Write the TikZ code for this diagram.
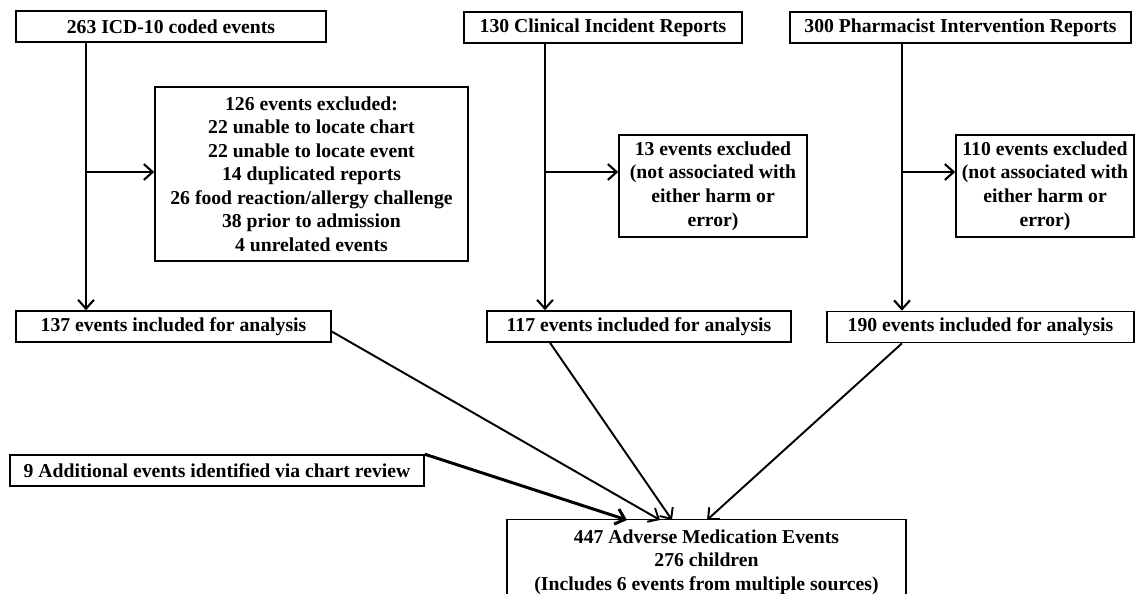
\documentclass[tikz,border=0pt]{standalone}
\usepackage{fontspec}
\setmainfont{Liberation Serif}
\usetikzlibrary{positioning, arrows.meta}

\tikzset{
  flowbox/.style={draw, line width=0.9pt, align=center, inner sep=0pt,
    font=\fontsize{11.2}{13.4}\selectfont\bfseries, minimum height=0.62cm},
  flowarrow/.style={line width=1.2pt, -{Straight Barb[length=5pt, width=9pt]}},
  mergearrow/.style={line width=1.1pt, -{Straight Barb[length=5pt, width=9pt]}}
}

\begin{document}
\begin{tikzpicture}[x=0.02cm, y=-0.02cm]
    \useasboundingbox (0,0) rectangle (1136,594);

    % Sources
    \node[flowbox, minimum width=6.2cm] (icd) at (171,26.5) {263 ICD-10 coded events};
    \node[flowbox, minimum width=5.56cm] (cir) at (603,27.5) {130 Clinical Incident Reports};
    \node[flowbox, minimum width=6.82cm] (pir) at (960.5,27.5) {300 Pharmacist Intervention Reports};

    % Exclusions
    \node[flowbox, minimum width=6.26cm, minimum height=3.48cm] (icdex) at (311.5,174) {126 events excluded:\\22 unable to locate chart\\22 unable to locate event\\14 duplicated reports\\26 food reaction/allergy challenge\\38 prior to admission\\4 unrelated events};
    \node[flowbox, minimum width=3.76cm, minimum height=2.04cm] (cirex) at (713,186) {13 events excluded\\(not associated with\\either harm or\\error)};
    \node[flowbox, minimum width=3.56cm, minimum height=2.04cm] (pirex) at (1045,186) {110 events excluded\\(not associated with\\either harm or\\error)};

    % Included
    \node[flowbox, minimum width=6.3cm] (icdin) at (173.5,326.5) {137 events included for analysis};
    \node[flowbox, minimum width=6.08cm] (cirin) at (639,326.5) {117 events included for analysis};
    \node[flowbox, minimum width=6.14cm] (pirin) at (980.5,327) {190 events included for analysis};

    \node[flowbox, minimum width=8.28cm] (extra) at (217,470.5) {9 Additional events identified via chart review};
    \node[flowbox, minimum width=7.98cm, minimum height=1.7cm] (total) at (706.5,562) {447 Adverse Medication Events\\276 children\\(Includes 6 events from multiple sources)};

    % Stems
    \coordinate (stemA) at (86,172);
    \coordinate (stemB) at (545,172);
    \coordinate (stemC) at (902,172);

    \draw[flowarrow] (icd.south -| stemA) -- (icdin.north -| stemA);
    \draw[flowarrow] (stemA) -- (stemA -| icdex.west);
    \draw[flowarrow] (cir.south -| stemB) -- (cirin.north -| stemB);
    \draw[flowarrow] (stemB) -- (stemB -| cirex.west);
    \draw[flowarrow] (pir.south -| stemC) -- (pirin.north -| stemC);
    \draw[flowarrow] (stemC) -- (stemC -| pirex.west);

    % Merge
    \coordinate (endA) at (660,520);
    \coordinate (endB) at (672,520);
    \coordinate (endC) at (707,520);
    \coordinate (endD) at (627,520);
    \draw[mergearrow] ([yshift=-0.1cm]icdin.east) -- (endA);
    \draw[mergearrow] ([xshift=-1.78cm]cirin.south) -- (endB);
    \draw[mergearrow] ([xshift=-1.57cm]pirin.south) -- (endC);
    \draw[mergearrow, line width=1.7pt] (extra.north east) -- (endD);
\end{tikzpicture}
\end{document}
